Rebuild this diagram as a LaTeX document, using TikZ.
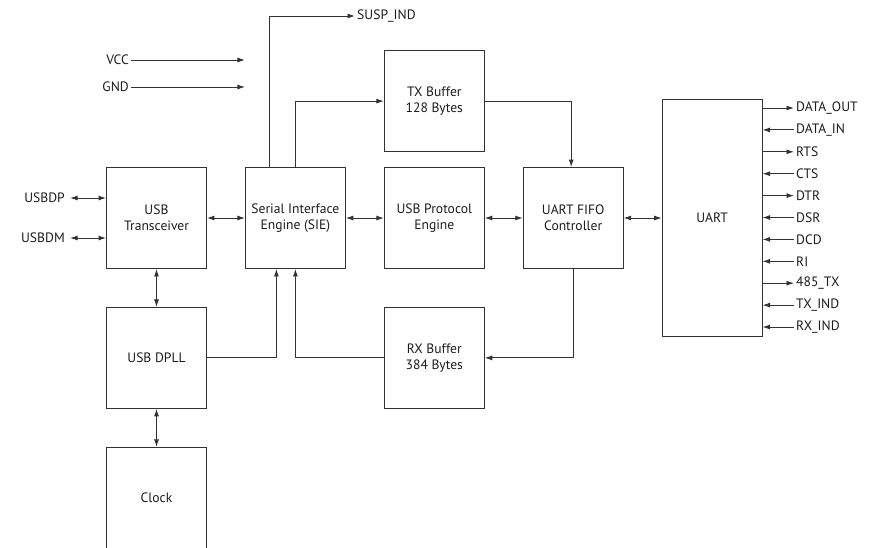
\documentclass[tikz,border=0pt]{standalone}
\usepackage{fontspec}
\setmainfont{PT Sans}
\usetikzlibrary{positioning,arrows.meta}

\definecolor{linegray}{HTML}{333333}
\definecolor{textgray}{HTML}{1E1C1D}

\tikzset{
  block/.style={draw=linegray, line width=0.9pt, minimum width=100pt, minimum height=101pt,
    align=center, inner sep=2pt, text=textgray, font=\fontsize{13.6}{16}\selectfont},
  pin/.style={inner sep=2pt, text=textgray, font=\fontsize{13.6}{16}\selectfont},
  wire/.style={draw=linegray, line width=0.9pt},
  sigout/.style={->},
  sigin/.style={<-},
}

\begin{document}
\begin{tikzpicture}[x=1pt, y=-1pt, node distance=38pt, >={Latex[length=7.5pt,width=5pt]}]
\useasboundingbox (0,0) rectangle (877,547);

% main row
\node[block] at (156.5,218) (trans) {USB\\Transceiver};
\node[block, right=of trans] (sie) {Serial Interface\\Engine (SIE)};
\node[block, right=of sie] (proto) {USB Protocol\\Engine};
\node[block, right=of proto] (fifo) {UART FIFO\\Controller};
\node[block, right=of fifo, minimum height=237pt] (uart) {UART};

% buffers and clocking
\node[block, above=15pt of proto] (txbuf) {TX Buffer\\128 Bytes};
\node[block, below=of proto] (rxbuf) {RX Buffer\\384 Bytes};
\node[block, below=of trans] (dpll) {USB DPLL};
\node[block, below=of dpll] (clock) {Clock};

% pins on the left
\node[pin, anchor=east] at (131,60) (vcc) {VCC};
\node[pin, anchor=east] at (131,87) (gnd) {GND};
\node[pin, anchor=east] at (67,198) (usbdp) {USBDP};
\node[pin, anchor=east] at (67,238) (usbdm) {USBDM};
\node[pin, anchor=west] at (355,16) (susp) {SUSP\_IND};

\coordinate (vccend) at (sie.west |- vcc);
\coordinate (gndend) at (sie.west |- gnd);
\draw[wire,->] (vcc) -- (vccend);
\draw[wire,->] (gnd) -- (gndend);
\draw[wire,<->] ([xshift=3pt]usbdp.east) -- (trans.west |- usbdp);
\draw[wire,<->] ([xshift=3pt]usbdm.east) -- (trans.west |- usbdm);
\draw[wire,->] ([xshift=-26pt]sie.north) |- (susp);

\draw[wire,<->] (trans) -- (sie);
\draw[wire,<->] (sie) -- (proto);
\draw[wire,<->] (proto) -- (fifo);
\draw[wire,<->] (fifo) -- (uart);
\draw[wire,<->] (trans) -- (dpll);
\draw[wire,<->] (dpll) -- (clock);

\draw[wire,->] (sie.north) |- (txbuf.west);
\draw[wire,->] (txbuf.east) -| ([xshift=-2pt]fifo.north);
\draw[wire,->] (fifo.south) |- (rxbuf.east);
\draw[wire,->] (rxbuf.west) -| (sie.south);
\draw[wire,->] (dpll.east) -| ([xshift=-19pt]sie.south);

% UART signals
\foreach \sig/\dir [count=\i from 0] in {DATA\_OUT/sigout, DATA\_IN/sigin, RTS/sigout,
    CTS/sigin, DTR/sigout, DSR/sigin, DCD/sigin, RI/sigin, 485\_TX/sigout,
    TX\_IND/sigin, RX\_IND/sigin}
{
  \node[pin, anchor=west] at (794,108+21.9*\i) (sig\i) {\sig};
  \draw[wire,\dir] (uart.east |- sig\i.west) -- (sig\i.west);
}
\end{tikzpicture}
\end{document}
